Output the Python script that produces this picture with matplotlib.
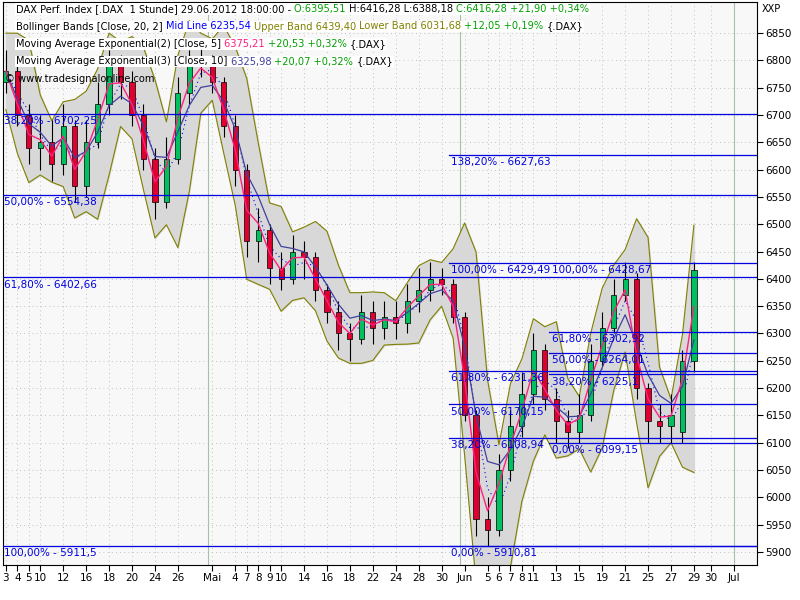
import matplotlib
matplotlib.use("Agg")
import matplotlib.pyplot as plt
import numpy as np
import pandas as pd

closes = [6780,6700,6640,6650,6610,6680,6570,6650,6720,6790,6760,6700,6620,6540,6620,6740,6790,6800,
          6760,6680,6600,6470,6490,6420,6400,6450,6440,6380,6340,6300,6290,6340,6310,6330,6320,6360,6380,6400,6390,6330,
          6150,5960,5940,6050,6130,6190,6270,6180,6140,6120,6150,6250,6310,6370,6400,6200,6140,6130,6150,6250,6416]
opens = [6760,6780,6700,6640,6650,6610,6680,6570,6650,6720,6790,6760,6700,6620,6540,6620,6740,6790,
         6800,6760,6680,6600,6470,6490,6420,6400,6450,6440,6380,6340,6300,6290,6340,6310,6330,6320,6360,6380,6400,6390,
         6330,6150,5960,5940,6050,6130,6190,6270,6180,6140,6120,6150,6250,6310,6370,6400,6200,6140,6130,6120,6250]
highs = [6820,6790,6720,6700,6690,6720,6690,6690,6760,6820,6810,6780,6720,6640,6660,6770,6820,6830,
         6810,6770,6700,6610,6530,6500,6450,6480,6470,6450,6390,6360,6320,6370,6360,6360,6360,6390,6420,6430,6420,6400,
         6340,6160,6000,6080,6160,6230,6300,6280,6200,6160,6190,6280,6340,6400,6430,6410,6210,6170,6190,6270,6430]
lows = [6740,6680,6610,6600,6580,6590,6540,6550,6640,6700,6730,6680,6600,6510,6530,6610,6720,6770,
        6740,6660,6570,6440,6430,6390,6380,6390,6400,6360,6320,6270,6250,6280,6280,6290,6290,6300,6340,6360,6370,6320,
        6140,5930,5910,5930,6030,6110,6170,6160,6100,6090,6100,6140,6240,6300,6360,6180,6100,6100,6100,6100,6230]

tick_pos = [0,1,2,3,5,7,9,11,13,15,18,20,21,22,23,24,26,28,30,32,34,36,38,40,42,43,44,45,46,48,50,52,54,56,58,60,61.5,63.5]
tick_lab = ["3","4","5","10","12","16","18","20","24","26","Mai","4","7","8","9","10","14","16","18","22","24","28","30",
            "Jun","5","6","7","8","11","13","15","19","21","25","27","29","30","Jul"]
month_pos = [17.6, 39.6, 63.5]

full_levels = [6702.25, 6554.38, 6402.66, 5911.5]
full_labels = ["38,20% - 6702,25", "50,00% - 6554,38", "61,80% - 6402,66", "100,00% - 5911,5"]
fib1_levels = [6627.63, 6429.49, 6231.36, 6170.15, 6108.94, 5910.81]
fib1_labels = ["138,20% - 6627,63", "100,00% - 6429,49", "61,80% - 6231,36", "50,00% - 6170,15", "38,20% - 6108,94", "0,00% - 5910,81"]
fib2_levels = [6302.92, 6264.01, 6225.1, 6099.15]
fib2_labels = ["61,80% - 6302,92", "50,00% - 6264,01", "38,20% - 6225,1", "0,00% - 6099,15"]

c = pd.Series(closes, dtype=float)
mid = c.rolling(3, min_periods=1).mean()
sd = c.rolling(3, min_periods=1).std().fillna(30)
upper = mid + 1.5 * sd + 25
lower = mid - 1.5 * sd - 25
ema5 = c.ewm(span=2).mean()
ema10 = c.ewm(span=4).mean()

fig = plt.figure(figsize=(8, 6), dpi=100)
ax = fig.add_axes([3/800, 35/600, 754/800, 563/600])
ax.set_facecolor("#F8F8F8")
x = np.arange(len(closes))
ax.fill_between(x, lower, upper, color="#D8D8D8", zorder=1)
ax.plot(x, upper, color="#808000", lw=0.8, zorder=2)
ax.plot(x, lower, color="#808000", lw=0.8, zorder=2)
ax.plot(x, mid, color="blue", lw=0.8, ls=(0, (1, 3)), zorder=2)
ax.plot(x, ema10, color="#4040A0", lw=0.9, zorder=4)
ax.plot(x, ema5, color="#FF2080", lw=1.0, zorder=4)
for i in range(len(closes)):
    o, cl = opens[i], closes[i]
    col = "#00C060" if cl >= o else "#E00030"
    ax.vlines(i, lows[i], highs[i], color="black", lw=0.8, zorder=3)
    ax.bar(i, abs(cl - o) or 2, bottom=min(o, cl), width=0.45, color=col, edgecolor="black", lw=0.5, zorder=3)

for y in np.arange(5900, 6851, 50):
    ax.axhline(y, color="#B0B0B0", lw=0.6, ls=(0, (1, 4)), zorder=0)
for p in tick_pos:
    ax.axvline(p, color="#B0B0B0", lw=0.6, ls=(0, (1, 4)), zorder=0)
for p in month_pos:
    ax.axvline(p, color="#A8C0A8", lw=0.8, zorder=0)

fc = "#0000E0"
for lv, lb in zip(full_levels, full_labels):
    ax.axhline(lv, color=fc, lw=0.9, zorder=5)
    ax.text(-0.15, lv - 4, lb, color=fc, fontsize=7.5, va="top", zorder=6)
for lv, lb in zip(fib1_levels, fib1_labels):
    ax.plot([38.6, 66], [lv, lv], color=fc, lw=0.9, zorder=5)
    ax.text(38.8, lv - 4, lb, color=fc, fontsize=7.5, va="top", zorder=6)
ax.text(47.6, 6429.49 - 4, "100,00% - 6428,67", color=fc, fontsize=7.5, va="top", zorder=6)
for lv, lb in zip(fib2_levels, fib2_labels):
    ax.plot([47.4, 66], [lv, lv], color=fc, lw=0.9, zorder=5)
    ax.text(47.6, lv - 4, lb, color=fc, fontsize=7.5, va="top", zorder=6)

ax.set_xlim(-0.25, 65.5)
ax.set_ylim(5876, 6907)
ax.yaxis.tick_right()
ax.set_yticks(np.arange(5900, 6851, 50))
ax.set_yticklabels([str(v) for v in range(5900, 6851, 50)], fontsize=7.5)
ax.set_xticks(tick_pos)
ax.set_xticklabels(tick_lab, fontsize=7.5)
ax.tick_params(length=4, pad=2)
for s in ax.spines.values():
    s.set_color("black"); s.set_linewidth(0.8)

hdr = [
    [("DAX Perf. Index [.DAX  1 Stunde] 29.06.2012 18:00:00 - ", "black"), ("O:6395,51 ", "#00A000"),
     ("H:6416,28 L:6388,18 ", "black"), ("C:6416,28 +21,90 +0,34%", "#00A000")],
    [("Bollinger Bands [Close, 20, 2] ", "black"), ("Mid Line 6235,54 ", "blue"),
     ("Upper Band 6439,40 ", "#808000"), ("Lower Band 6031,68 ", "#808000"), ("+12,05 +0,19% ", "#00A000"), ("{.DAX}", "black")],
    [("Moving Average Exponential(2) [Close, 5] ", "black"), ("6375,21 ", "#FF2080"), ("+20,53 +0,32% ", "#00A000"), ("{.DAX}", "black")],
    [("Moving Average Exponential(3) [Close, 10] ", "black"), ("6325,98 ", "#4040A0"), ("+20,07 +0,32% ", "#00A000"), ("{.DAX}", "black")],
    [("© www.tradesignalonline.com", "black")],
]
renderer = fig.canvas.get_renderer()
for row, parts in enumerate(hdr):
    xp = 16 if row < 4 else 5
    yp = 591 - row * 17.5
    for txt, col in parts:
        t = fig.text(xp / 800, yp / 600, txt, color=col, fontsize=7.1, va="center", ha="left",
                     bbox=dict(facecolor="white", edgecolor="none", pad=0.5) if row < 4 else None)
        xp += t.get_window_extent(renderer).width
fig.text(762/800, 591/600, "XXP", fontsize=7, va="center")
fig.savefig("out.png", dpi=100)
